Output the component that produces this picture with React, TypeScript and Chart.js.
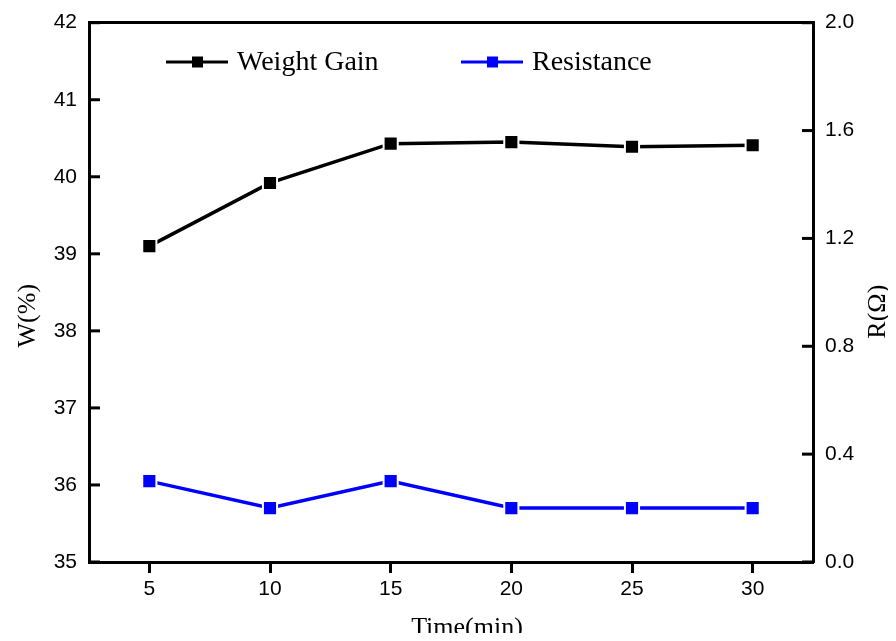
import React, { useEffect, useRef } from "react";
import { Chart, registerables } from "chart.js";

Chart.register(...registerables);

const TIME_MIN = [5, 10, 15, 20, 25, 30];
const WEIGHT_GAIN = [39.1, 39.92, 40.43, 40.45, 40.39, 40.41];
const RESISTANCE = [0.3, 0.2, 0.3, 0.2, 0.2, 0.2];
const X_TICKS = [5, 10, 15, 20, 25, 30];
const W_TICKS = [35, 36, 37, 38, 39, 40, 41, 42];
const R_TICKS = [0, 0.4, 0.8, 1.2, 1.6, 2.0];
const SERIES_LABELS = ["Weight Gain", "Resistance"];
const X_TITLE = "Time(min)";
const W_TITLE = "W(%)";
const R_TITLE = "R(Ω)";

const SERIF = "'Liberation Serif', 'Times New Roman', serif";
const SANS = "'Liberation Sans', Arial, sans-serif";
const AXIS_W = 3;

const overlayPlugin = {
  id: "overlay",
  afterDraw(chart: any) {
    const { ctx, chartArea: ca } = chart;
    ctx.save();
    // inward ticks on the y axes
    ctx.strokeStyle = "#000";
    ctx.lineWidth = AXIS_W;
    const yS = chart.scales.y;
    yS.ticks.forEach((t: any) => {
      const py = yS.getPixelForValue(t.value);
      ctx.beginPath();
      ctx.moveTo(ca.left, py);
      ctx.lineTo(ca.left + 11, py);
      ctx.stroke();
    });
    const rS = chart.scales.y1;
    rS.ticks.forEach((t: any) => {
      const py = rS.getPixelForValue(t.value);
      ctx.beginPath();
      ctx.moveTo(ca.right, py);
      ctx.lineTo(ca.right - 11, py);
      ctx.stroke();
    });
    // Legend
    const ds = chart.data.datasets;
    const items = [
      { dx1: 77, dx2: 139, mx: 108.5, tx: 148 },
      { dx1: 372, dx2: 434, mx: 403.5, tx: 443 },
    ];
    const ly = ca.top + 39.3;
    items.forEach((it, i) => {
      const color = ds[i].borderColor;
      ctx.strokeStyle = color;
      ctx.fillStyle = color;
      ctx.lineWidth = 3;
      ctx.beginPath();
      ctx.moveTo(ca.left + it.dx1, ly);
      ctx.lineTo(ca.left + it.dx2, ly);
      ctx.stroke();
      ctx.fillRect(ca.left + it.mx - 5.5, ly - 5.5, 11, 11);
      ctx.fillStyle = "#000";
      ctx.font = `28px ${SERIF}`;
      ctx.textAlign = "left";
      ctx.textBaseline = "middle";
      ctx.fillText(ds[i].label, ca.left + it.tx, ly + 1);
    });
    // Axis titles
    ctx.fillStyle = "#000";
    ctx.font = `26px ${SERIF}`;
    ctx.textAlign = "center";
    ctx.textBaseline = "middle";
    ctx.fillText(X_TITLE, ca.left + 378, ca.bottom + 66);
    ctx.save();
    ctx.translate(20, ca.top + 293);
    ctx.rotate(-Math.PI / 2);
    ctx.fillText(W_TITLE, 0, 0);
    ctx.restore();
    ctx.save();
    ctx.translate(ca.right + 65, ca.top + 289);
    ctx.rotate(-Math.PI / 2);
    ctx.fillText(R_TITLE, 0, 0);
    ctx.restore();
    ctx.restore();
  },
};

export default function App() {
  const ref = useRef<HTMLCanvasElement>(null);
  useEffect(() => {
    if (!ref.current) return;
    const tickFont = { family: SANS, size: 21 };
    const chart = new Chart(ref.current, {
      type: "line",
      data: {
        datasets: [
          {
            label: SERIES_LABELS[0],
            data: TIME_MIN.map((x, i) => ({ x, y: WEIGHT_GAIN[i] })),
            borderColor: "#000000",
            backgroundColor: "#000000",
            borderWidth: 3.5,
            pointStyle: "rect",
            pointRadius: 10,
            pointBorderColor: "#ffffff",
            pointBorderWidth: 2,
            pointBackgroundColor: "#000000",
            yAxisID: "y",
            tension: 0,
          },
          {
            label: SERIES_LABELS[1],
            data: TIME_MIN.map((x, i) => ({ x, y: RESISTANCE[i] })),
            borderColor: "#0000ff",
            backgroundColor: "#0000ff",
            borderWidth: 3.5,
            pointStyle: "rect",
            pointRadius: 10,
            pointBorderColor: "#ffffff",
            pointBorderWidth: 2,
            pointBackgroundColor: "#0000ff",
            yAxisID: "y1",
            tension: 0,
          },
        ],
      },
      options: {
        responsive: false,
        animation: false,
        layout: { padding: 0 },
        plugins: { legend: { display: false }, tooltip: { enabled: false } },
        scales: {
          x: {
            type: "linear",
            position: "bottom",
            min: 2.5,
            max: 32.5,
            afterBuildTicks: (s: any) => {
              s.ticks = X_TICKS.map((v) => ({ value: v }));
            },
            afterFit: (s: any) => {
              s.height = 79;
            },
            ticks: { font: tickFont, color: "#000", padding: 4, maxRotation: 0, autoSkip: false },
            grid: { drawOnChartArea: false, tickLength: 11, tickWidth: AXIS_W, tickColor: "#000" },
            border: { color: "#000", width: AXIS_W },
          },
          xTop: {
            type: "linear",
            position: "top",
            min: 2.5,
            max: 32.5,
            afterFit: (s: any) => {
              s.height = 14.7;
            },
            ticks: { display: false },
            grid: { display: false },
            border: { color: "#000", width: AXIS_W },
          },
          y: {
            type: "linear",
            position: "left",
            min: 35,
            max: 42,
            afterBuildTicks: (s: any) => {
              s.ticks = W_TICKS.map((v) => ({ value: v }));
            },
            afterFit: (s: any) => {
              s.width = 81;
            },
            ticks: { font: tickFont, color: "#000", padding: 0 },
            grid: { drawOnChartArea: false, tickLength: 12, tickWidth: 0, tickColor: "rgba(0,0,0,0)" },
            border: { color: "#000", width: AXIS_W },
          },
          y1: {
            type: "linear",
            position: "right",
            min: 0,
            max: 2,
            afterBuildTicks: (s: any) => {
              s.ticks = R_TICKS.map((v) => ({ value: v }));
            },
            afterFit: (s: any) => {
              s.width = 75;
            },
            ticks: {
              font: tickFont,
              color: "#000",
              padding: 0,
              callback: (v: any) => Number(v).toFixed(1),
            },
            grid: { drawOnChartArea: false, tickLength: 12, tickWidth: 0, tickColor: "rgba(0,0,0,0)" },
            border: { color: "#000", width: AXIS_W },
          },
        },
      } as any,
      plugins: [overlayPlugin],
    });
    return () => chart.destroy();
  }, []);
  return (
    <div style={{ width: 880, height: 633, marginBottom: -8 }}>
      <canvas ref={ref} width={880} height={633} style={{ display: "block", width: 880, height: 633 }} />
    </div>
  );
}
